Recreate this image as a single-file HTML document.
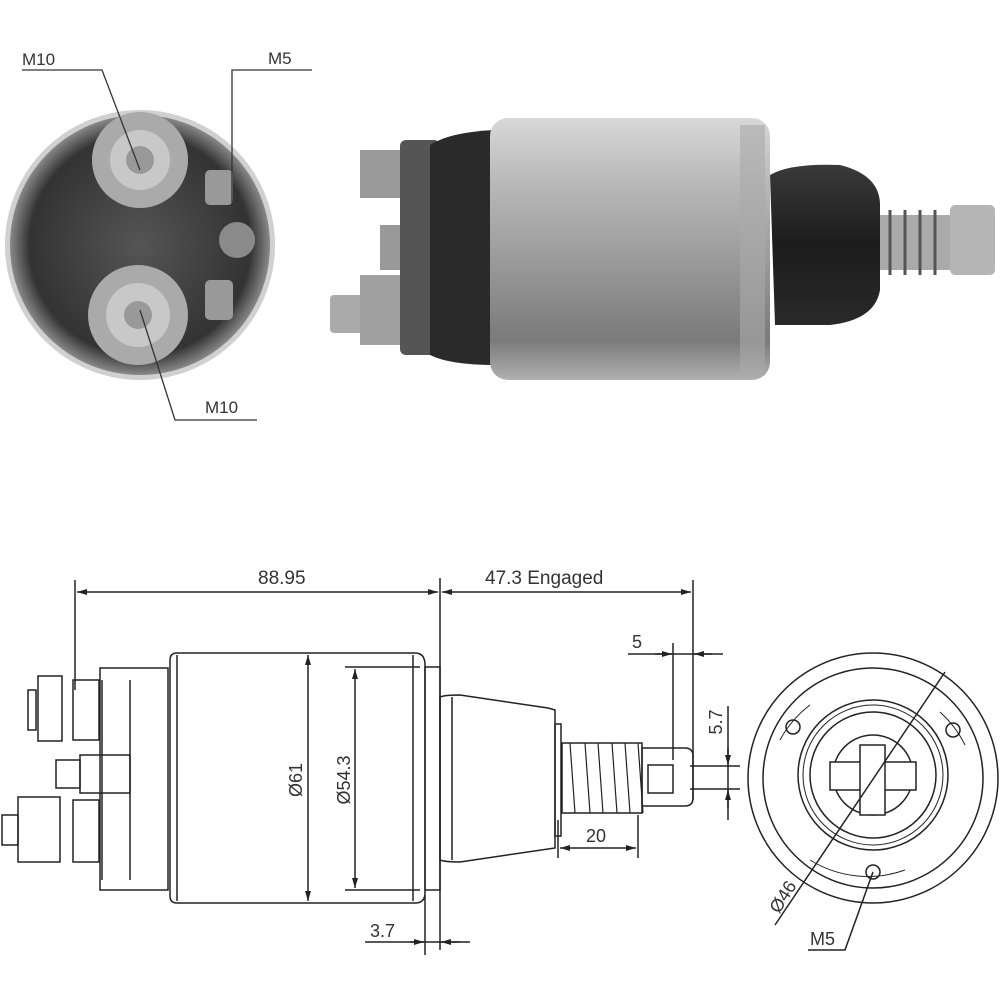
<!DOCTYPE html>
<html><head><meta charset="utf-8"><style>
html,body{margin:0;padding:0;background:#fff;}
svg{display:block}
text{font-family:"Liberation Sans",sans-serif;fill:#333;}
</style></head><body>
<svg width="1000" height="1000" viewBox="0 0 1000 1000" xmlns="http://www.w3.org/2000/svg">
<defs>
<linearGradient id="silv" x1="0" y1="0" x2="0" y2="1">
<stop offset="0" stop-color="#d8d8d8"/><stop offset="0.25" stop-color="#b8b8b8"/><stop offset="0.55" stop-color="#9a9a9a"/><stop offset="0.85" stop-color="#7a7a7a"/><stop offset="1" stop-color="#b0b0b0"/></linearGradient>
<linearGradient id="blk" x1="0" y1="0" x2="0" y2="1">
<stop offset="0" stop-color="#3a3a3a"/><stop offset="0.5" stop-color="#1c1c1c"/><stop offset="1" stop-color="#2a2a2a"/></linearGradient>
<radialGradient id="endv" cx="0.5" cy="0.5" r="0.5">
<stop offset="0" stop-color="#555"/><stop offset="0.85" stop-color="#333"/><stop offset="1" stop-color="#888"/></radialGradient>
<marker id="ar" markerWidth="10" markerHeight="6" refX="10" refY="3" orient="auto-start-reverse" markerUnits="userSpaceOnUse"><path d="M0,0 L10,3 L0,6 Z" fill="#222"/></marker>
</defs>

<!-- TOP: end view photo -->
<circle cx="140" cy="245" r="135" fill="#d0d0d0"/>
<circle cx="140" cy="245" r="130" fill="url(#endv)"/>
<circle cx="140" cy="160" r="48" fill="#aaa"/>
<circle cx="140" cy="160" r="30" fill="#c8c8c8"/>
<circle cx="140" cy="160" r="14" fill="#999"/>
<circle cx="138" cy="315" r="50" fill="#aaa"/>
<circle cx="138" cy="315" r="32" fill="#c8c8c8"/>
<circle cx="138" cy="315" r="14" fill="#999"/>
<rect x="205" y="170" width="28" height="35" rx="5" fill="#999"/>
<circle cx="237" cy="240" r="18" fill="#8a8a8a"/>
<rect x="205" y="280" width="28" height="40" rx="5" fill="#999"/>
<!-- leaders top -->
<g stroke="#333" stroke-width="1.3" fill="none">
<polyline points="22,70 102,70 140,170"/>
<polyline points="312,70 232,70 232,205"/>
<polyline points="140,310 175,420 257,420"/>
</g>
<text x="22" y="65" font-size="17">M10</text>
<text x="268" y="64" font-size="17">M5</text>
<text x="205" y="413" font-size="17">M10</text>

<!-- TOP: side photo -->
<rect x="330" y="295" width="40" height="38" rx="4" fill="#aaa"/>
<rect x="360" y="150" width="45" height="48" fill="#9a9a9a"/>
<rect x="360" y="275" width="45" height="70" fill="#a0a0a0"/>
<rect x="380" y="225" width="50" height="45" fill="#999"/>
<rect x="400" y="140" width="40" height="215" rx="6" fill="#555"/>
<path d="M430,145 Q450,132 495,130 L495,365 Q450,365 430,355 Z" fill="#2a2a2a"/>
<rect x="490" y="118" width="280" height="262" rx="18" fill="url(#silv)"/>
<rect x="740" y="125" width="25" height="250" fill="#aaa" opacity="0.6"/>
<path d="M770,175 Q790,163 840,165 Q880,175 880,205 L880,290 Q875,320 830,325 L775,325 Z" fill="url(#blk)"/>
<rect x="880" y="215" width="80" height="55" fill="#aaa"/>
<g stroke="#555" stroke-width="3"><line x1="890" y1="210" x2="890" y2="275"/><line x1="905" y1="210" x2="905" y2="275"/><line x1="920" y1="210" x2="920" y2="275"/><line x1="935" y1="210" x2="935" y2="275"/></g>
<rect x="950" y="205" width="45" height="70" rx="5" fill="#b5b5b5"/>

<!-- BOTTOM drawing -->
<g stroke="#222" stroke-width="1.5" fill="none">
<!-- terminals -->
<rect x="100" y="668" width="68" height="222"/>
<rect x="38" y="676" width="24" height="65"/>
<rect x="28" y="690" width="8" height="40"/>
<rect x="73" y="680" width="26" height="60"/>
<rect x="56" y="760" width="24" height="28"/>
<rect x="80" y="755" width="50" height="38"/>
<rect x="18" y="797" width="42" height="65"/>
<rect x="2" y="815" width="16" height="30"/>
<rect x="73" y="800" width="26" height="62"/>
<line x1="102" y1="680" x2="102" y2="880"/><line x1="130" y1="680" x2="130" y2="880"/>
<!-- body -->
<path d="M170,660 Q170,653 177,653 L415,653 Q425,653 425,665 L425,893 Q425,903 415,903 L177,903 Q170,903 170,896 Z"/>
<line x1="177" y1="655" x2="177" y2="901"/>
<line x1="413" y1="655" x2="413" y2="901"/>
<rect x="425" y="667" width="15" height="223"/>
<!-- cap -->
<path d="M440,697 Q445,695 460,695 L548,708 L555,710 L555,848 L460,862 Q445,862 440,860 Z"/>
<line x1="452" y1="697" x2="452" y2="860"/>
<rect x="555" y="724" width="6" height="112"/>
<!-- spring -->
<rect x="562" y="743" width="80" height="70"/>
<g stroke-width="1.2">
<path d="M570,743 L575,813 M585,743 L590,813 M598,743 L603,813 M612,743 L617,813 M625,743 L630,813 M638,743 L643,813"/>
</g>
<path d="M642,748 L685,748 Q693,748 693,756 L693,798 Q693,806 685,806 L642,806 Z"/>
<rect x="648" y="765" width="25" height="28"/>
<!-- dimension lines -->
<line x1="75" y1="580" x2="75" y2="690"/>
<line x1="440" y1="578" x2="440" y2="950"/>
<line x1="77" y1="592" x2="438" y2="592" marker-start="url(#ar)" marker-end="url(#ar)"/>
<line x1="442" y1="592" x2="691" y2="592" marker-start="url(#ar)" marker-end="url(#ar)"/>
<line x1="693" y1="580" x2="693" y2="800"/>
<line x1="308" y1="655" x2="308" y2="901" marker-start="url(#ar)" marker-end="url(#ar)"/>
<line x1="345" y1="667" x2="420" y2="667"/><line x1="345" y1="890" x2="420" y2="890"/>
<line x1="355" y1="669" x2="355" y2="888" marker-start="url(#ar)" marker-end="url(#ar)"/>
<line x1="425" y1="895" x2="425" y2="955"/>
<line x1="365" y1="942" x2="470" y2="942"/>
<line x1="410" y1="942" x2="424" y2="942" marker-end="url(#ar)"/>
<line x1="460" y1="942" x2="441" y2="942" marker-end="url(#ar)"/>
<line x1="628" y1="654" x2="723" y2="654"/>
<line x1="655" y1="654" x2="672" y2="654" marker-end="url(#ar)"/>
<line x1="712" y1="654" x2="694" y2="654" marker-end="url(#ar)"/>
<line x1="673" y1="643" x2="673" y2="760"/>
<line x1="690" y1="766" x2="740" y2="766"/><line x1="690" y1="789" x2="740" y2="789"/>
<line x1="728" y1="706" x2="728" y2="820"/>
<line x1="728" y1="748" x2="728" y2="765" marker-end="url(#ar)"/>
<line x1="728" y1="808" x2="728" y2="790" marker-end="url(#ar)"/>
<line x1="558" y1="820" x2="558" y2="858"/><line x1="638" y1="815" x2="638" y2="858"/>
<line x1="560" y1="848" x2="636" y2="848" marker-start="url(#ar)" marker-end="url(#ar)"/>
<!-- end view -->
<circle cx="873" cy="778" r="125"/>
<circle cx="873" cy="778" r="110"/>
<circle cx="873" cy="775" r="75"/>
<circle cx="873" cy="775" r="70" stroke-width="1"/>
<circle cx="873" cy="775" r="63"/>
<circle cx="873" cy="775" r="40"/>
<rect x="830" y="762" width="86" height="28" fill="#fff"/>
<rect x="860" y="745" width="25" height="70" fill="#fff"/>
<circle cx="793" cy="727" r="7"/><circle cx="953" cy="730" r="7"/><circle cx="873" cy="872" r="7"/>
<path d="M780,740 A110,110 0 0 1 810,705" stroke-width="1"/>
<path d="M940,712 A110,110 0 0 1 965,745" stroke-width="1"/>
<path d="M810,860 A110,110 0 0 0 905,870" stroke-width="1"/>
<line x1="775" y1="925" x2="945" y2="672"/>
<polyline points="873,872 845,950 808,950"/>
</g>
<text x="258" y="584" font-size="19">88.95</text>
<text x="485" y="584" font-size="19">47.3 Engaged</text>
<text x="632" y="648" font-size="18">5</text>
<text x="586" y="842" font-size="18">20</text>
<text x="370" y="937" font-size="18">3.7</text>
<text font-size="18" transform="translate(302,780) rotate(-90)" text-anchor="middle">Ø61</text>
<text font-size="18" transform="translate(350,780) rotate(-90)" text-anchor="middle">Ø54.3</text>
<text font-size="18" transform="translate(722,722) rotate(-90)" text-anchor="middle">5.7</text>
<text font-size="18" transform="translate(788,900) rotate(-58)" text-anchor="middle">Ø46</text>
<text x="810" y="945" font-size="18">M5</text>
</svg>
</body></html>
